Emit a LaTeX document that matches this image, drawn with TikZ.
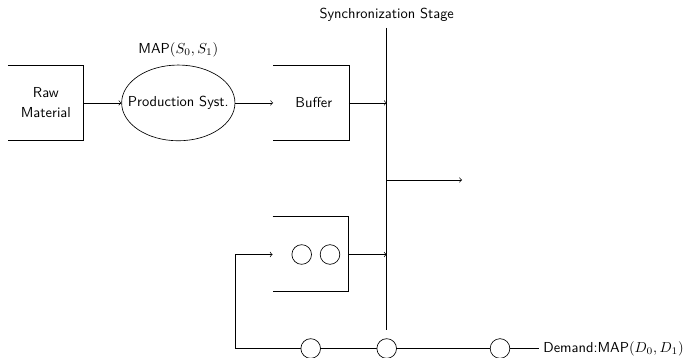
\documentclass[tikz,border=0pt]{standalone}
\usetikzlibrary{shapes.geometric}
\begin{document}
\begin{tikzpicture}[x=0.692pt,y=-0.692pt,font=\sffamily,
  every path/.style={line width=0.45pt},
  openbox/.style={minimum width=52pt,minimum height=52pt,inner sep=0pt},
  proc/.style={ellipse,draw,minimum width=78.4pt,minimum height=52.4pt,inner sep=0pt},
  job/.style={circle,draw,fill=white,minimum size=13.6pt,inner sep=0pt},
  lbl/.style={inner sep=0pt},
  flow/.style={->}]
\useasboundingbox (0,0) rectangle (684,358);
% nodes
\node[openbox,align=center] (raw) at (45.85,102.9) {Raw\\[2pt]Material};
\node[proc] (ps) at (178.3,102.9) {\makebox[30pt]{Production Syst.}};
\node[lbl] (map) at (178.3,50) {MAP$(S_0,S_1)$};
\node[openbox] (buf) at (311,102.9) {\hspace{4pt}Buffer};
\node[openbox] (q) at (310.5,253.85) {};
\node[job] (q1) at (301.7,254.5) {};
\node[job] (q2) at (330,254.5) {};
\node[lbl] (sync) at (386.7,15) {Synchronization Stage};
\coordinate (syncTop) at (386.7,28);
\coordinate (syncBot) at (386.7,330);
\coordinate (out) at (462,180);
\coordinate (fb) at (235,348.5);
\node[lbl,anchor=west] (dem) at (543,348.5) {Demand:MAP$(D_0,D_1)$};
% open boxes
\draw (raw.north west) -- (raw.north east) -- (raw.south east) -- (raw.south west);
\draw (buf.north west) -- (buf.north east) -- (buf.south east) -- (buf.south west);
\draw (q.north west) -- (q.north east) -- (q.south east) -- (q.south west);
% flows
\draw[flow] (raw.east) -- (ps.west);
\draw[flow] (ps.east) -- (buf.west);
\draw[flow] (buf.east) -- (buf.east -| syncTop);
\draw (syncTop) -- (syncBot);
\draw[flow] (out -| syncTop) -- (out);
\draw[flow] (q.east |- q1) -- (q1 -| syncTop);
\draw[flow] (fb) -- (fb |- q1) -- (q.west |- q1);
\draw (fb) -- ([xshift=-3pt]dem.west);
\node[job] (d1) at (310.7,348.5) {};
\node[job] (d2) at (386.7,348.5) {};
\node[job] (d3) at (500,348.5) {};
\end{tikzpicture}
\end{document}
